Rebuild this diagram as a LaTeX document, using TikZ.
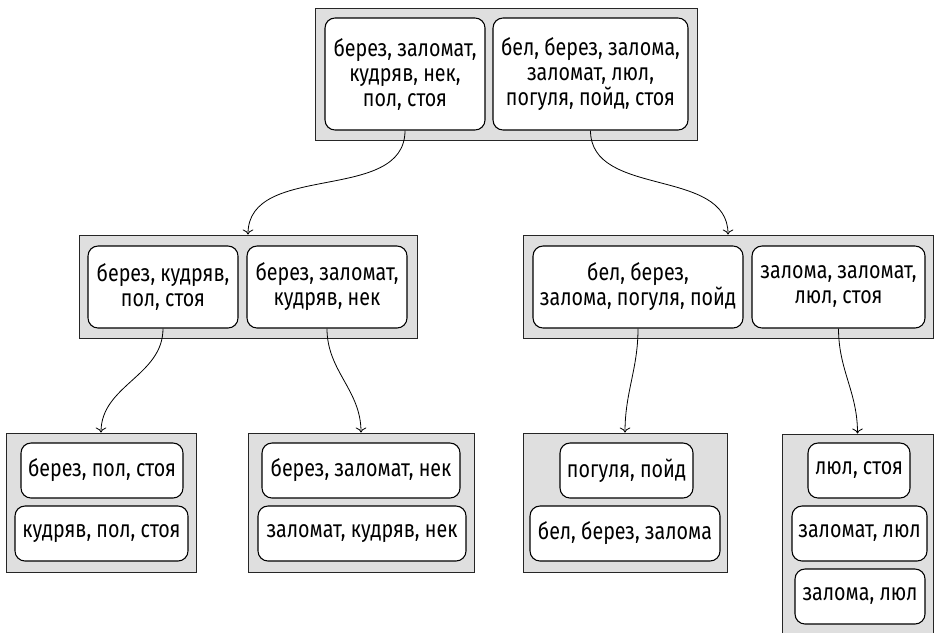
\documentclass[tikz,border=0pt]{standalone}
\usepackage{fontspec}
\setmainfont{Fira Sans}[FakeStretch=0.82]
\usetikzlibrary{arrows.meta}

\begin{document}
\begin{tikzpicture}[x=0.75pt, y=-0.75pt, every node/.style={font=\fontsize{18}{18.75}\selectfont}, >={To[scale=1.3]},
  group/.style={draw=black!85, line width=0.6pt, fill=gray!25, inner sep=0pt},
  cell/.style={draw, line width=0.8pt, fill=white, rounded corners=7.5pt, align=center, inner sep=0pt},
  link/.style={->, line width=0.6pt}]
\clip (0,0) rectangle (937,632);
% root
\node[group, minimum width=286.5pt, minimum height=99pt] (root) at (506,74) {};
\node[cell, minimum width=120pt, minimum height=84pt] (rootA) at (405,74) {берез, заломат,\\кудряв, нек,\\пол, стоя};
\node[cell, minimum width=146.25pt, minimum height=84pt] (rootB) at (590.5,74) {бел, берез, залома,\\заломат, люл,\\погуля, пойд, стоя};
% second level
\node[group, minimum width=253.5pt, minimum height=77.25pt] (lsplit) at (248,286.5) {};
\node[cell, minimum width=112.5pt, minimum height=61.5pt] (lA) at (163,287) {берез, кудряв,\\пол, стоя};
\node[cell, minimum width=120pt, minimum height=61.5pt] (lB) at (327,287) {берез, заломат,\\кудряв, нек};
\node[group, minimum width=307.5pt, minimum height=77.25pt] (rsplit) at (728,286.5) {};
\node[cell, minimum width=157.5pt, minimum height=61.5pt] (rA) at (638,287) {бел, берез,\\залома, погуля, пойд};
\node[cell, minimum width=129.75pt, minimum height=61.5pt] (rB) at (838.5,287) {залома, заломат,\\люл, стоя};
% leaves
\node[group, minimum width=142.5pt, minimum height=104.25pt] (ll) at (101,502.5) {};
\node[cell, minimum width=121.5pt, minimum height=41.25pt] (ll1) at (102,470.5) {берез, пол, стоя};
\node[cell, minimum width=129.75pt, minimum height=41.25pt] (ll2) at (101.5,533.5) {кудряв, пол, стоя};
\node[group, minimum width=169.5pt, minimum height=104.25pt] (lr) at (361,502.5) {};
\node[cell, minimum width=148.5pt, minimum height=41.25pt] (lr1) at (361,470.5) {берез, заломат, нек};
\node[cell, minimum width=156pt, minimum height=41.25pt] (lr2) at (362,533.5) {заломат, кудряв, нек};
\node[group, minimum width=153pt, minimum height=104.25pt] (rl) at (625,502.5) {};
\node[cell, minimum width=99.75pt, minimum height=41.25pt] (rl1) at (626.5,470.5) {погуля, пойд};
\node[cell, minimum width=142.5pt, minimum height=41.25pt] (rl2) at (625,533.5) {бел, берез, залома};
\node[group, minimum width=113.25pt, minimum height=154.5pt] (rr) at (857.5,537) {};
\node[cell, minimum width=76.5pt, minimum height=41.25pt] (rr1) at (859,470.5) {люл, стоя};
\node[cell, minimum width=101.25pt, minimum height=41.25pt] (rr2) at (859.5,533.5) {заломат, люл};
\node[cell, minimum width=97.5pt, minimum height=41.25pt] (rr3) at (860,596.5) {залома, люл};
% links
\draw[link] (rootA.south) to[out=-90, in=90] (lsplit.north);
\draw[link] (rootB.south) to[out=-90, in=90] (rsplit.north);
\draw[link] (lA.south) to[out=-90, in=90] (ll.north);
\draw[link] (lB.south) to[out=-90, in=90] (lr.north);
\draw[link] (rA.south) to[out=-90, in=90] (rl.north);
\draw[link] (rB.south) to[out=-90, in=90] (rr.north);
\end{tikzpicture}
\end{document}
